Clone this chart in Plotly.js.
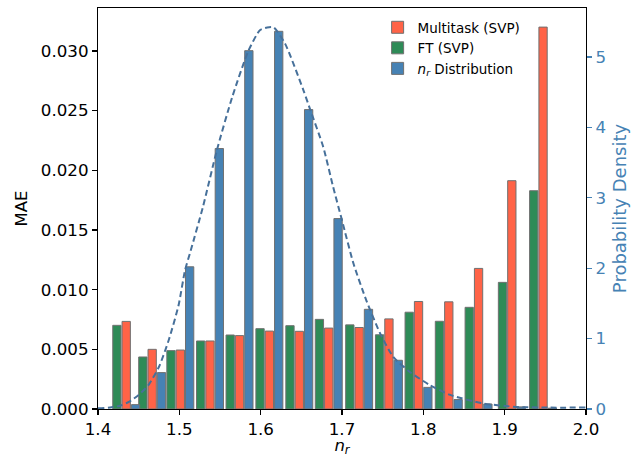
<!DOCTYPE html>
<html>
<head>
<meta charset="utf-8">
<script src="https://cdn.plot.ly/plotly-3.0.1.min.js"></script>
<style>html,body{margin:0;padding:0;background:#fff;}#chart{width:631px;height:457px;}</style>
</head>
<body>
<div id="chart"></div>
<script>
// bin positions (n_r) of each group
const binCenters = [1.4347,1.4666,1.5012,1.5377,1.5740,1.6107,1.6475,1.6837,1.7211,1.7577,1.7941,1.8313,1.8679,1.9088,1.9472];
// MAE per bin
const maeFT = [0.00701,0.00436,0.00489,0.00570,0.00620,0.00673,0.00698,0.00751,0.00705,0.00622,0.00811,0.00735,0.00852,0.01061,0.01829];
const maeMultitask = [0.00734,0.00500,0.00494,0.00570,0.00615,0.00653,0.00651,0.00678,0.00683,0.00755,0.00901,0.00898,0.01178,0.01913,0.03200];
// n_r histogram density
const nrDensity = [0.062,0.517,2.02,3.70,5.09,5.365,4.253,2.705,1.416,0.692,0.307,0.134,0.071,0.030,0.012];
// KDE curve
const kdeX = [1.400,1.415,1.428,1.438,1.450,1.462,1.475,1.487,1.499,1.507,1.514,1.529,1.546,1.565,1.585,1.599,1.608,1.616,1.630,1.6525,1.661,1.677,1.689,1.700,1.714,1.730,1.747,1.763,1.783,1.808,1.833,1.873,1.914,1.955,2.000];
const kdeY = [0.01,0.02,0.05,0.10,0.20,0.34,0.60,0.98,1.47,1.97,2.25,2.87,3.67,4.43,5.09,5.38,5.42,5.42,5.19,4.53,4.25,3.72,3.16,2.68,2.07,1.54,1.07,0.74,0.53,0.34,0.20,0.08,0.03,0.02,0.02];

const barW = 0.0102;
const step = 0.01147;
const edge = {color: '#707070', width: 1};

const traces = [
  {type:'bar', name:'Multitask (SVP)', x: binCenters, y: maeMultitask, width: barW, offset: -barW/2,
   marker:{color:'#ff6347', line: edge}, yaxis:'y', xaxis:'x'},
  {type:'bar', name:'FT (SVP)', x: binCenters, y: maeFT, width: barW, offset: -barW/2 - step,
   marker:{color:'#2e8b57', line: edge}, yaxis:'y', xaxis:'x'},
  {type:'bar', name:'<i>n<sub>r</sub></i> Distribution', x: binCenters, y: nrDensity, width: barW, offset: -barW/2 + step,
   marker:{color:'#4682b4', line: edge}, yaxis:'y2', xaxis:'x'},
  {type:'scatter', mode:'lines', x: kdeX, y: kdeY, yaxis:'y2', xaxis:'x', showlegend:false,
   line:{color:'#46709a', width:2, dash:'6px,3.5px', shape:'spline', smoothing:0.6}, hoverinfo:'skip'}
];

const font = 'DejaVu Sans, sans-serif';
const layout = {
  width: 631, height: 457,
  margin: {l: 98, r: 45, t: 8, b: 48},
  paper_bgcolor: '#fff', plot_bgcolor: '#fff',
  barmode: 'overlay',
  showlegend: true,
  font: {family: font, color: '#000'},
  legend: {x: 0.573, y: 0.99, xanchor: 'left', yanchor: 'top', bgcolor: 'rgba(0,0,0,0)',
           font: {size: 13.5, family: font}, tracegroupgap: 0, traceorder: 'normal'},
  xaxis: {range: [1.4, 2.0], dtick: 0.1, tickformat: '.1f', showgrid: false, zeroline: false,
          showline: true, linecolor: '#000', linewidth: 1.1, mirror: true,
          ticks: 'outside', ticklen: 5, tickwidth: 1.1, tickcolor: '#000',
          tickfont: {size: 16.7, family: font},
          title: {text: '<i>n</i><sub><i>r</i></sub>', font: {size: 16.5, family: font}, standoff: 7}},
  yaxis: {range: [0, 0.0336], dtick: 0.005, tickformat: '.3f', showgrid: false, zeroline: false,
          showline: true, linecolor: '#000', linewidth: 1.1,
          ticks: 'outside', ticklen: 5, tickwidth: 1.1, tickcolor: '#000',
          tickfont: {size: 16.7, family: font},
          title: {text: 'MAE', font: {size: 16.5, family: font}, standoff: 9}},
  yaxis2: {range: [0, 5.696], dtick: 1, overlaying: 'y', side: 'right', showgrid: false, zeroline: false,
           showline: true, linecolor: '#000', linewidth: 1.1,
           ticks: 'outside', ticklen: 5, tickwidth: 1.1, tickcolor: '#4682b4',
           tickfont: {size: 16.7, family: font, color: '#4682b4'},
           title: {text: 'Probability Density', font: {size: 18, family: font, color: '#4682b4'}, standoff: 8}}
};

Plotly.newPlot('chart', traces, layout, {displayModeBar: false, staticPlot: true});
</script>
</body>
</html>
